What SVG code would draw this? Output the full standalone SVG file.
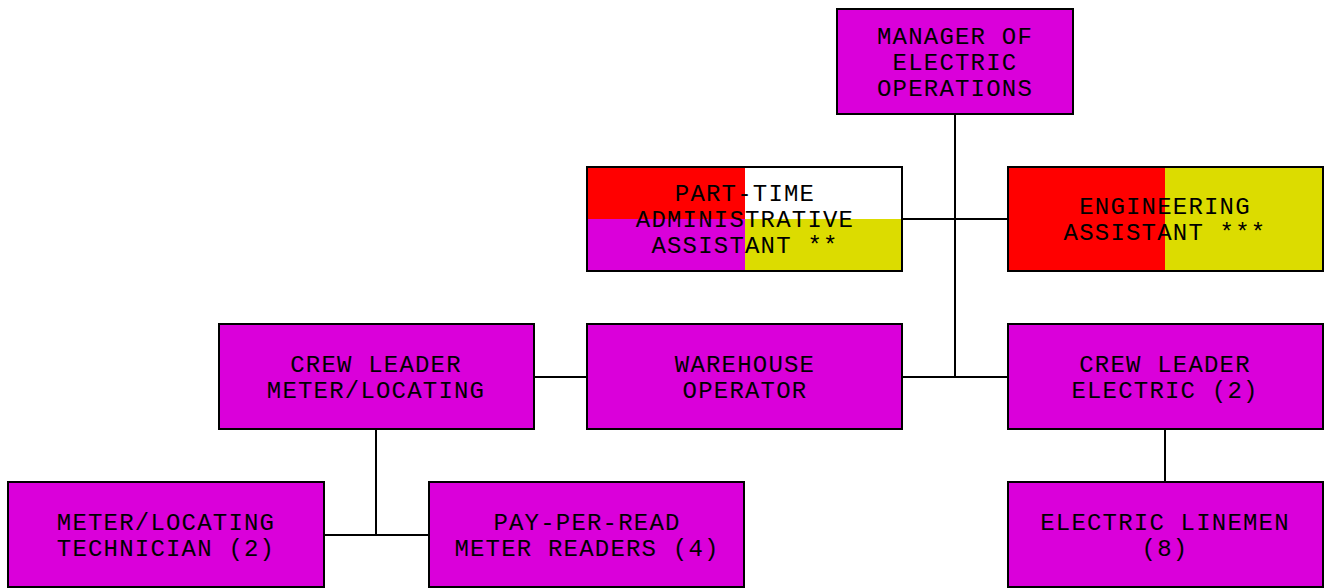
<svg xmlns="http://www.w3.org/2000/svg" width="1324" height="588" viewBox="0 0 1324 588">
<style>
.box{stroke:#000;stroke-width:2;}
.m{fill:#DA00DA;}
.r{fill:#FF0000;}
.y{fill:#DCDC00;}
.w{fill:#FFFFFF;}
.edge{fill:none;stroke:#000;stroke-width:2;}
text{font-family:"Liberation Mono","DejaVu Sans Mono",monospace;font-size:24px;letter-spacing:1.2px;fill:#000;text-anchor:middle;}
</style>
<rect width="1324" height="588" fill="#fff"/>
<g id="connectors">
<path class="edge" d="M955 114V377M902 219H1008M902 377H1008M534 377H587M376 429V535M324 535H429M1165 429V482"/>
</g>
<g id="manager">
<rect class="box m" x="837" y="9" width="236" height="105"/>
<text x="955" y="44">MANAGER OF</text>
<text x="955" y="70">ELECTRIC</text>
<text x="955" y="96">OPERATIONS</text>
</g>
<g id="parttime">
<rect class="r" x="587" y="167" width="158" height="52"/>
<rect class="w" x="745" y="167" width="157" height="52"/>
<rect class="m" x="587" y="219" width="158" height="52"/>
<rect class="y" x="745" y="219" width="157" height="52"/>
<rect class="box" fill="none" x="587" y="167" width="315" height="104"/>
<text x="745" y="201">PART-TIME</text>
<text x="745" y="227">ADMINISTRATIVE</text>
<text x="745" y="253">ASSISTANT **</text>
</g>
<g id="engineering">
<rect class="r" x="1008" y="167" width="157" height="104"/>
<rect class="y" x="1165" y="167" width="158" height="104"/>
<rect class="box" fill="none" x="1008" y="167" width="315" height="104"/>
<text x="1165" y="214">ENGINEERING</text>
<text x="1165" y="240">ASSISTANT ***</text>
</g>
<g id="crewmeter">
<rect class="box m" x="219" y="324" width="315" height="105"/>
<text x="376" y="372">CREW LEADER</text>
<text x="376" y="398">METER/LOCATING</text>
</g>
<g id="warehouse">
<rect class="box m" x="587" y="324" width="315" height="105"/>
<text x="745" y="372">WAREHOUSE</text>
<text x="745" y="398">OPERATOR</text>
</g>
<g id="crewelectric">
<rect class="box m" x="1008" y="324" width="315" height="105"/>
<text x="1165" y="372">CREW LEADER</text>
<text x="1165" y="398">ELECTRIC (2)</text>
</g>
<g id="metertech">
<rect class="box m" x="8" y="482" width="316" height="105"/>
<text x="166" y="530">METER/LOCATING</text>
<text x="166" y="556">TECHNICIAN (2)</text>
</g>
<g id="payperread">
<rect class="box m" x="429" y="482" width="315" height="105"/>
<text x="587" y="530">PAY-PER-READ</text>
<text x="587" y="556">METER READERS (4)</text>
</g>
<g id="linemen">
<rect class="box m" x="1008" y="482" width="315" height="105"/>
<text x="1165" y="530">ELECTRIC LINEMEN</text>
<text x="1165" y="556">(8)</text>
</g>
</svg>
